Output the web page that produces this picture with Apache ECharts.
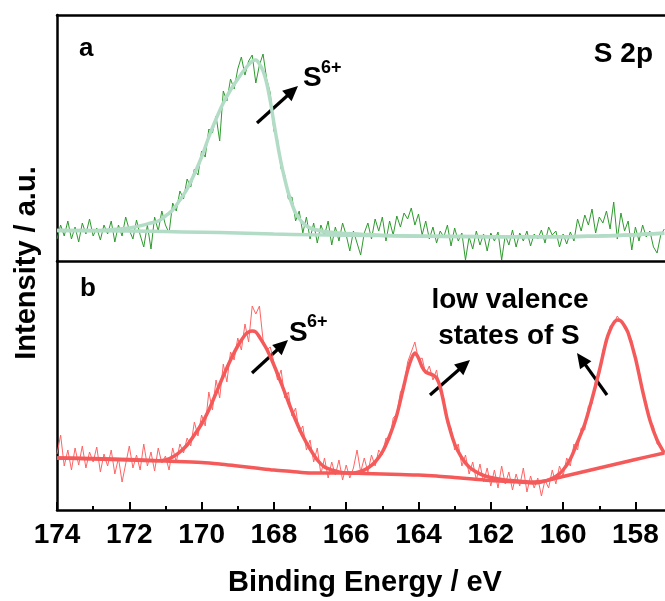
<!DOCTYPE html>
<html><head><meta charset="utf-8">
<script src="https://cdn.jsdelivr.net/npm/echarts@6/dist/echarts.min.js"></script>
<style>html,body{margin:0;padding:0;background:#fff}#c{width:665px;height:601px}</style>
</head><body><div id="c"></div>
<script>
// x tick labels (binding energy, eV)
const xTicks = [174,172,170,168,166,164,162,160,158];
// raw spectra: start energy 174.0 eV, step 0.1 eV towards lower energy
const rawStart = 174.0, rawStep = 0.1;
const aRaw = [
22,36,25,40,22,34,19,38,27,42,
25,33,21,36,27,40,19,36,25,44,
31,22,41,26,14,36,12,44,30,50,
36,28,58,50,70,62,82,74,92,86,
110,104,132,128,145,120,170,160,182,172,
192,204,186,200,206,178,196,207,182,168,
130,122,92,86,62,64,40,50,28,44,
22,38,18,36,26,40,16,34,20,38,
26,10,30,18,6,28,38,22,42,30,
44,20,40,26,45,34,48,42,53,36,
47,26,40,22,34,18,30,24,36,15,
33,20,28,1,24,12,30,16,27,10,
28,20,29,1,26,16,31,14,28,20,
30,15,27,22,31,18,34,26,30,14,
27,17,29,20,42,30,46,36,52,28,
44,38,50,32,59,22,48,30,40,11,
34,20,36,24,30,14,8,26,32];
const aFitE = [174,173,172.6,172.2,171.8,171.4,171.2,171.0,170.8,170.6,170.4,170.2,170.0,169.8,169.6,169.4,169.2,169.0,168.8,168.6,168.5,168.4,168.3,168.2,168.1,168.0,167.9,167.8,167.7,167.6,167.5,167.4,167.2,167.0,166.6,166.2,165.6,165.0,164.0,162.0,160.0,159.0,158.0,157.2];
const aFitY = [30.5,30.5,31.1,32.2,34.4,38,40,45,51,61,72,87,104,124,142,158,171,182,192,200,201,197,190,178,160,138,117,98,82,68,57,48,38,33,29.5,28,26.8,25.6,24.8,24.3,24.3,25,26.3,27.7];
const aBgE = [174,172,171,170,169,168,167,166,165,164,163,162,161,160,159,158,157.2];
const aBgY = [30.5,29.9,29.4,28.8,28.0,27.0,26.3,25.8,25.4,25.0,24.6,24.3,24.3,24.3,25.0,26.3,27.7];

const bRaw = [
56,75,44,60,40,62,45,64,42,58,
48,63,38,56,44,60,36,52,28,46,
64,42,55,40,66,44,58,39,62,47,
54,40,62,48,66,57,72,64,88,74,
95,84,118,100,130,112,146,128,158,150,
172,160,186,168,204,196,204,170,160,163,
148,130,140,112,118,94,102,78,84,60,
70,48,62,36,52,32,48,35,50,30,
45,32,42,60,38,52,38,55,44,60,
55,72,70,92,96,118,124,148,158,168,
150,152,136,144,130,140,118,112,86,82,
60,66,44,55,36,48,30,46,28,42,
24,40,22,44,26,38,20,36,24,42,
18,34,22,32,14,30,22,40,26,44,
34,52,44,66,60,82,80,104,106,130,
134,160,166,184,186,194,188,186,176,170,
150,140,116,108,88,84,66,64,56];
const bFitE = [174,173,172,171.2,171.0,170.8,170.6,170.4,170.2,170.0,169.8,169.6,169.4,169.2,169.0,168.8,168.7,168.6,168.5,168.4,168.2,168.0,167.8,167.6,167.4,167.2,167.0,166.8,166.6,166.4,166.2,166.0,165.8,165.6,165.4,165.2,165.0,164.8,164.6,164.4,164.3,164.2,164.1,164.0,163.9,163.8,163.6,163.5,163.4,163.3,163.2,163.0,162.8,162.6,162.4,162.2,162.0,161.6,161.2,160.8,160.6,160.4,160.2,160.0,159.8,159.6,159.4,159.2,159.0,158.8,158.7,158.6,158.5,158.4,158.3,158.2,158.0,157.8,157.6,157.4,157.2];
const bFitY = [52,51,50,49.3,50,53,58,65,75,86,100,117,134,150,164,175,178,179,178,173,161,145,127,108,90,74,61,50,43,40,38,37,37,38.5,42,48,58,74,95,125,140,151,157,152,143,138,135,132,123,107,90,66,52,43,38,34.5,32.5,30,28.8,28,28.5,30.2,33.5,40,51,68,86,111,139,170,180,187,190,189,184,177,152,119,90,70,57];
const bBgE = [174,173,172,171,170,169.5,169,168.5,168,167.5,167,166.5,166,165.5,165,164.5,164,163.5,163,162.5,162,161.5,161,160.8,160.5,160,159,158,157.2];
const bBgY = [52,51.5,50.5,49,47.5,46,44,42,40,38.5,37,37,37,36.5,36,35.5,35,34,32.5,31,29.5,28.5,27.5,27,29,33.5,42,50.5,57];

function pairs(E, Y){ return E.map((e,i)=>[e, Y[i]]); }
function rawPairs(R){ return R.map((v,i)=>[+(rawStart - i*rawStep).toFixed(1), v]); }

const FONT = '"Liberation Sans", Arial, sans-serif';
const pxPerEV = 36.15;
const gridLeft = 57, gridW = 18*pxPerEV;
const frame = {color:'#000', width:2.5};

function arrow(x0,y0,x1,y1){
  const dx=x1-x0, dy=y1-y0, L=Math.hypot(dx,dy), ux=dx/L, uy=dy/L, nx=-uy, ny=ux;
  const hl=15, hw=7, bx=x1-ux*hl, by=y1-uy*hl;
  return {type:'group', children:[
    {type:'line', shape:{x1:x0,y1:y0,x2:bx+ux*2,y2:by+uy*2}, style:{stroke:'#000', lineWidth:3.2}},
    {type:'polygon', shape:{points:[[x1,y1],[bx+nx*hw,by+ny*hw],[bx-nx*hw,by-ny*hw]]}, style:{fill:'#000'}}
  ]};
}
function txt(x,y,t,size,align){
  return {type:'text', x:x, y:y, style:{text:t, font:'bold '+size+'px '+FONT, fill:'#000', align:align||'left', verticalAlign:'middle'}};
}

const xBase = {type:'value', min:156, max:174, inverse:true, splitLine:{show:false},
  axisTick:{show:false}, axisLabel:{show:false}, axisLine:{lineStyle:frame}};
const chart = echarts.init(document.getElementById('c'), null, {renderer:'canvas'});
chart.setOption({
  animation:false,
  backgroundColor:'#fff',
  grid:[
    {left:gridLeft, top:15, width:gridW, height:246, outerBoundsMode:'none', containLabel:false},
    {left:gridLeft, top:261, width:gridW, height:249, outerBoundsMode:'none', containLabel:false}
  ],
  xAxis:[
    Object.assign({}, xBase, {gridIndex:0, position:'bottom'}),
    Object.assign({}, xBase, {gridIndex:0, position:'top'}),
    Object.assign({}, xBase, {gridIndex:1, position:'bottom', interval:2,
      axisTick:{show:true, inside:true, length:8, lineStyle:{color:'#000', width:2}},
      minorTick:{show:true, splitNumber:2, length:4, lineStyle:{color:'#000', width:2}},
      axisLabel:{show:true, margin:11, color:'#000', fontSize:28, fontWeight:'bold', fontFamily:FONT,
        formatter:v=> xTicks.indexOf(v)>=0 ? String(v) : ''}})
  ],
  yAxis:[
    {type:'value', gridIndex:0, min:0, max:246, axisLine:{show:true, lineStyle:frame}, axisTick:{show:false}, axisLabel:{show:false}, splitLine:{show:false}},
    {type:'value', gridIndex:1, min:0, max:249, axisLine:{show:true, lineStyle:frame}, axisTick:{show:false}, axisLabel:{show:false}, splitLine:{show:false}}
  ],
  series:[
    {type:'line', xAxisIndex:0, yAxisIndex:0, data:rawPairs(aRaw), symbol:'none', lineStyle:{color:'#2e9a2e', width:1}, z:2},
    {type:'line', xAxisIndex:0, yAxisIndex:0, data:pairs(aBgE,aBgY), symbol:'none', smooth:0.3, lineStyle:{color:'#b2dcc6', width:3.5}, z:3},
    {type:'line', xAxisIndex:0, yAxisIndex:0, data:pairs(aFitE,aFitY), symbol:'none', smooth:0.3, lineStyle:{color:'#b2dcc6', width:3.5}, z:3},
    {type:'line', xAxisIndex:2, yAxisIndex:1, data:rawPairs(bRaw), symbol:'none', lineStyle:{color:'#ff6464', width:1}, z:2},
    {type:'line', xAxisIndex:2, yAxisIndex:1, data:pairs(bBgE,bBgY), symbol:'none', smooth:0.3, lineStyle:{color:'#f55a5a', width:3.5}, z:3},
    {type:'line', xAxisIndex:2, yAxisIndex:1, data:pairs(bFitE,bFitY), symbol:'none', smooth:0.3, lineStyle:{color:'#f55a5a', width:3.5}, z:3}
  ],
  graphic:[
    txt(79,49,'a',26),
    txt(653,54,'S 2p',28,'right'),
    txt(303,78,'S',28),
    txt(321,68,'6+',18),
    arrow(257,123,298,86),
    txt(80,289,'b',26),
    txt(289,333,'S',28),
    txt(307,322,'6+',18),
    arrow(252,373,288,340),
    txt(510,300,'low valence',28,'center'),
    txt(509,336,'states of S',28,'center'),
    arrow(430,395,470,360),
    arrow(607,395,577,353),
    {type:'text', x:27, y:263, rotation:Math.PI/2, style:{text:'Intensity / a.u.', font:'bold 29px '+FONT, fill:'#000', align:'center', verticalAlign:'middle'}},
    txt(365,583,'Binding Energy / eV',29,'center')
  ]
});
</script>
</body></html>
